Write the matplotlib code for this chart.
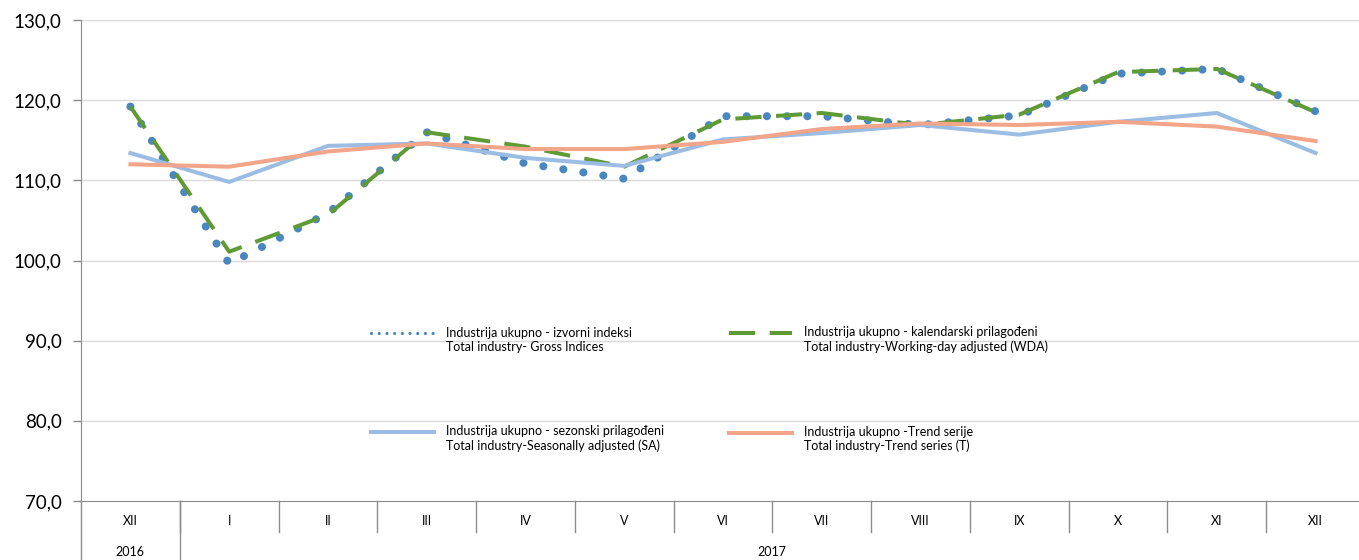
import matplotlib.pyplot as plt
import matplotlib.transforms as mtransforms
from matplotlib.lines import Line2D
import numpy as np

months = ['XII', 'I', 'II', 'III', 'IV', 'V', 'VI', 'VII', 'VIII', 'IX', 'X', 'XI', 'XII']
years = ['2016', '2017']

gross = [119.2, 99.6, 105.9, 116.0, 112.1, 110.2, 118.0, 118.0, 116.9, 118.1, 123.3, 123.9, 118.6]
wda = [119.2, 101.1, 105.7, 116.0, 114.2, 111.7, 117.6, 118.4, 116.9, 118.2, 123.5, 123.9, 118.5]
sa = [113.4, 109.8, 114.3, 114.6, 112.8, 111.8, 115.1, 115.9, 116.9, 115.7, 117.3, 118.4, 113.4]
trend = [112.0, 111.7, 113.6, 114.6, 113.9, 113.9, 114.8, 116.4, 117.1, 116.9, 117.3, 116.7, 114.9]

labels = [
    '\nIndustrija ukupno - izvorni indeksi\nTotal industry- Gross Indices',
    '\nIndustrija ukupno - sezonski prilagođeni\nTotal industry-Seasonally adjusted (SA)',
    '\nIndustrija ukupno - kalendarski prilagođeni\nTotal industry-Working-day adjusted (WDA)',
    '\nIndustrija ukupno -Trend serije\nTotal industry-Trend series (T)',
]

plt.rcParams['font.family'] = ['Lato', 'DejaVu Sans']

fig = plt.figure(figsize=(13.59, 5.60), dpi=100)
ax = fig.add_axes([81 / 1359, 59 / 560, 1284 / 1359, 481 / 560])

x = np.arange(len(months)) + 0.5
l1, = ax.plot(x, gross, color='#4a86c0', lw=5.8, linestyle=(0, (0.01, 2.5)),
              dash_capstyle='round', zorder=3)
l2, = ax.plot(x, wda, color='#5e9a36', lw=2.9, linestyle=(0, (6.5, 3.6)), zorder=4)
l3, = ax.plot(x, sa, color='#9bbce3', lw=2.9, zorder=5)
l4, = ax.plot(x, trend, color='#f2a588', lw=2.9, zorder=6)

ax.set_xlim(0, 13)
ax.set_ylim(70, 130)
ax.set_yticks(np.arange(70, 131, 10))
ax.set_yticklabels([('%.1f' % v).replace('.', ',') for v in np.arange(70, 131, 10)])
ax.set_xticks([])
for y in range(80, 131, 10):
    ax.axhline(y, color='#d9d9d9', lw=1, zorder=1)

for s in ['top', 'right']:
    ax.spines[s].set_visible(False)
ax.spines['bottom'].set_color('#8c8c8c')
ax.spines['left'].set_color('#8c8c8c')
ax.tick_params(axis='y', length=6, width=1, color='#8c8c8c', pad=8, labelsize=13.5)

# category box under the axis
trans = mtransforms.blended_transform_factory(ax.transData, ax.transAxes)
for i in range(1, 13):
    ax.plot([i, i], [0, -0.065], color='#8c8c8c', lw=1, transform=trans, clip_on=False)
ax.plot([1, 1], [0, -0.13], color='#8c8c8c', lw=1, transform=trans, clip_on=False)
ax.plot([0, 0], [0, -0.13], color='#8c8c8c', lw=1, transform=trans, clip_on=False)
for xi, m in zip(x, months):
    ax.text(xi, -0.042, m, transform=trans, ha='center', va='center', fontsize=9)
ax.text(0.5, -0.105, years[0], transform=trans, ha='center', va='center', fontsize=9)
ax.text(7.0, -0.105, years[1], transform=trans, ha='center', va='center', fontsize=9)

# legend: smaller dots for the gross series handle, like the original
h1 = Line2D([], [], color='#4a86c0', lw=2.3, linestyle=(0, (0.01, 2.4)),
            dash_capstyle='round')
leg = ax.legend([h1, l3, l2, l4], labels, ncol=2, frameon=False, fontsize=9,
                loc='upper left', bbox_to_anchor=(365 / 1359, (560 - 306) / 560),
                bbox_transform=fig.transFigure, handlelength=5.0, handletextpad=1.0,
                labelspacing=4.7, columnspacing=5.2, borderpad=0)

fig.savefig('out.png', dpi=100)
